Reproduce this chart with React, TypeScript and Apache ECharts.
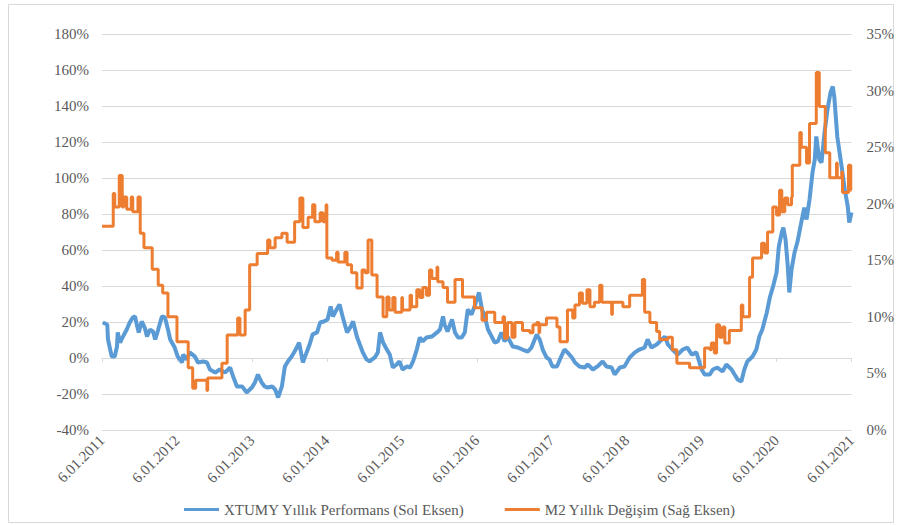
import React, { useEffect, useRef } from "react";
import * as echarts from "echarts";

// XTUMY annual performance (left axis, %), x = decimal year (2011 = 6.01.2011)
const xtumyYears = [
  2011.01, 2011.07, 2011.08, 2011.13, 2011.17, 2011.2, 2011.21, 2011.24, 2011.28, 2011.33, 2011.37, 2011.41,
  2011.44, 2011.47, 2011.49, 2011.53, 2011.57, 2011.6, 2011.64, 2011.68, 2011.71, 2011.75, 2011.8, 2011.84,
  2011.88, 2011.91, 2011.97, 2012.01, 2012.07, 2012.08, 2012.13, 2012.17, 2012.24, 2012.28, 2012.35, 2012.4,
  2012.44, 2012.51, 2012.57, 2012.64, 2012.71, 2012.75, 2012.8, 2012.87, 2012.93, 2013.0, 2013.04, 2013.08,
  2013.13, 2013.17, 2013.21, 2013.27, 2013.31, 2013.35, 2013.4, 2013.44, 2013.48, 2013.53, 2013.57, 2013.63,
  2013.68, 2013.73, 2013.77, 2013.81, 2013.87, 2013.91, 2013.96, 2014.01, 2014.05, 2014.08, 2014.13, 2014.17,
  2014.21, 2014.27, 2014.31, 2014.35, 2014.4, 2014.44, 2014.48, 2014.53, 2014.57, 2014.64, 2014.68, 2014.71,
  2014.75, 2014.8, 2014.84, 2014.88, 2014.93, 2014.97, 2015.01, 2015.07, 2015.11, 2015.15, 2015.2, 2015.24,
  2015.28, 2015.33, 2015.4, 2015.47, 2015.51, 2015.55, 2015.57, 2015.61, 2015.67, 2015.71, 2015.75, 2015.8,
  2015.84, 2015.88, 2015.93, 2015.97, 2016.03, 2016.07, 2016.11, 2016.15, 2016.2, 2016.24, 2016.28, 2016.33,
  2016.37, 2016.41, 2016.48, 2016.55, 2016.61, 2016.68, 2016.73, 2016.8, 2016.84, 2016.88, 2016.93, 2016.97,
  2017.01, 2017.07, 2017.11, 2017.17, 2017.21, 2017.27, 2017.31, 2017.37, 2017.44, 2017.48, 2017.55, 2017.61,
  2017.68, 2017.73, 2017.8, 2017.84, 2017.91, 2017.97, 2018.04, 2018.11, 2018.17, 2018.24, 2018.28, 2018.33,
  2018.4, 2018.47, 2018.51, 2018.55, 2018.61, 2018.68, 2018.75, 2018.81, 2018.87, 2018.93, 2019.0, 2019.04,
  2019.11, 2019.15, 2019.21, 2019.28, 2019.33, 2019.4, 2019.44, 2019.48, 2019.53, 2019.57, 2019.61, 2019.68,
  2019.73, 2019.77, 2019.81, 2019.87, 2019.91, 2019.95, 2020.0, 2020.03, 2020.07, 2020.09, 2020.12, 2020.15,
  2020.17, 2020.2, 2020.24, 2020.28, 2020.33, 2020.37, 2020.4, 2020.44, 2020.48, 2020.51, 2020.53, 2020.57,
  2020.6, 2020.64, 2020.68, 2020.72, 2020.75, 2020.77, 2020.81, 2020.87, 2020.91, 2020.95, 2020.97, 2021.0,
];
const xtumyValues = [
  19.7, 18.6, 10.3, 0.8, 0.8, 6.4, 14.2, 8.6, 11.9, 15.8, 19.7, 22.5,
  23.1, 17.5, 14.2, 20.3, 16.9, 11.9, 15.8, 14.7, 10.3, 15.8, 23.1, 22.5,
  15.8, 10.3, 5.8, 0.8, -2.5, 1.9, -0.8, 3.1, 0.8, -2.5, -1.9, -2.5,
  -6.4, -8.1, -6.4, -8.1, -5.3, -10.3, -15.8, -15.8, -19.2, -16.4, -13.6, -9.2,
  -13.6, -15.8, -16.4, -15.8, -17.5, -21.9, -15.8, -4.7, -1.9, 0.8, 3.6, 8.6,
  -2.5, 3.1, 7.5, 13.1, 14.2, 19.7, 20.3, 21.4, 28.6, 23.1, 26.9, 29.7,
  23.1, 14.2, 16.9, 20.3, 11.9, 7.5, 3.1, -0.8, -1.9, 0.3, 3.1, 14.2,
  8.6, 4.7, 1.9, -5.3, -3.6, -1.9, -6.4, -4.7, -5.3, -1.9, 4.7, 11.4,
  9.2, 11.4, 11.9, 14.2, 15.8, 23.1, 18.6, 14.7, 21.4, 14.2, 11.4, 11.4,
  14.2, 26.9, 24.2, 28.6, 36.4, 26.9, 22.5, 15.8, 11.9, 8.6, 9.2, 14.2,
  9.2, 11.9, 6.4, 5.8, 4.7, 3.6, 5.8, 13.1, 10.3, 4.7, 0.3, -0.8,
  -4.7, -4.7, -0.8, 4.7, 3.1, 0.3, -2.5, -4.7, -5.3, -3.6, -6.4, -4.7,
  -1.9, -4.7, -5.3, -9.2, -5.3, -4.7, 0.3, 3.1, 4.7, 5.8, 10.3, 5.8,
  7.5, 10.3, 11.9, 7.5, 4.7, 1.9, 4.7, 5.8, 1.9, 3.1, -6.4, -9.2,
  -9.2, -6.4, -5.3, -7.5, -3.6, -6.4, -9.2, -11.9, -13.1, -6.4, -1.9, 0.8,
  4.7, 11.9, 15.8, 25.3, 33.6, 39.2, 47.5, 61.9, 69.7, 72.5, 65.8, 50.8,
  36.4, 49.2, 58.6, 64.7, 75.3, 83.6, 76.9, 88.1, 103.1, 110.3, 123.1, 110.3,
  108.6, 125.3, 138.1, 147.5, 150.8, 145.3, 123.1, 105.8, 93.6, 84.2, 75.3, 80.8,
];

// M2 annual change (right axis, %), each point = date the new weekly value starts
const m2Years = [
  2011.0, 2011.15, 2011.17, 2011.23, 2011.27, 2011.29, 2011.33, 2011.39, 2011.41, 2011.48, 2011.51, 2011.56,
  2011.67, 2011.75, 2011.81, 2011.88, 2012.0, 2012.15, 2012.21, 2012.25, 2012.4, 2012.41, 2012.6, 2012.67,
  2012.81, 2012.84, 2012.91, 2012.97, 2013.07, 2013.21, 2013.24, 2013.31, 2013.4, 2013.47, 2013.57, 2013.64,
  2013.68, 2013.75, 2013.81, 2013.84, 2013.91, 2013.95, 2013.99, 2014.0, 2014.07, 2014.13, 2014.15, 2014.24,
  2014.27, 2014.33, 2014.4, 2014.47, 2014.51, 2014.55, 2014.6, 2014.67, 2014.75, 2014.8, 2014.83, 2014.88,
  2014.91, 2015.0, 2015.01, 2015.11, 2015.13, 2015.2, 2015.24, 2015.28, 2015.33, 2015.37, 2015.4, 2015.47,
  2015.48, 2015.55, 2015.61, 2015.71, 2015.81, 2015.97, 2016.07, 2016.13, 2016.24, 2016.35, 2016.37, 2016.41,
  2016.47, 2016.51, 2016.61, 2016.71, 2016.75, 2016.8, 2016.83, 2016.84, 2016.93, 2017.07, 2017.11, 2017.21,
  2017.28, 2017.31, 2017.37, 2017.41, 2017.47, 2017.51, 2017.57, 2017.64, 2017.67, 2017.8, 2017.81, 2017.95,
  2018.04, 2018.21, 2018.24, 2018.31, 2018.4, 2018.44, 2018.55, 2018.61, 2018.67, 2018.84, 2019.04, 2019.11,
  2019.13, 2019.17, 2019.2, 2019.24, 2019.28, 2019.31, 2019.37, 2019.53, 2019.55, 2019.64, 2019.68, 2019.8,
  2019.84, 2019.88, 2019.95, 2020.0, 2020.04, 2020.07, 2020.11, 2020.15, 2020.2, 2020.21, 2020.31, 2020.33,
  2020.4, 2020.44, 2020.53, 2020.57, 2020.65, 2020.71, 2020.8, 2020.81, 2020.87, 2020.88, 2020.96, 2020.99,
  2021.0,
];
const m2Values = [
  18.0, 20.9, 19.7, 22.5, 19.7, 20.6, 19.5, 20.6, 19.3, 20.6, 17.4, 16.1,
  14.2, 12.8, 12.1, 10.0, 7.8, 5.5, 3.7, 4.4, 3.5, 4.6, 5.9, 8.4,
  9.9, 8.4, 10.6, 14.6, 15.6, 16.8, 16.1, 17.0, 17.4, 16.6, 18.4, 20.5,
  17.9, 18.8, 19.9, 18.4, 19.2, 18.4, 19.9, 15.2, 15.0, 15.7, 14.85, 15.7,
  14.6, 13.9, 12.55, 14.15, 13.9, 16.8, 13.7, 11.75, 10.0, 11.75, 10.6, 11.7,
  10.4, 11.7, 10.6, 11.9, 10.9, 12.4, 11.7, 12.6, 11.9, 14.15, 13.4, 14.4,
  13.1, 12.6, 11.3, 13.3, 11.75, 10.8, 9.7, 10.4, 9.5, 10.0, 8.1, 9.5,
  8.2, 9.5, 8.8, 8.6, 9.3, 9.5, 8.6, 9.3, 9.9, 9.1, 7.8, 10.6,
  9.9, 11.05, 12.1, 11.2, 12.4, 10.9, 11.3, 12.8, 11.3, 10.2, 11.3, 10.9,
  11.9, 13.3, 10.4, 9.5, 8.7, 8.0, 8.2, 7.1, 5.9, 5.5, 7.25, 7.1,
  7.7, 6.8, 9.3, 8.2, 9.1, 7.7, 8.8, 11.05, 10.0, 13.5, 15.2, 16.5,
  15.65, 17.5, 19.7, 19.0, 21.2, 19.3, 20.5, 19.9, 20.6, 23.4, 26.3, 25.0,
  23.6, 27.1, 31.6, 28.6, 24.5, 22.3, 23.6, 22.3, 22.8, 21.0, 23.4, 21.2,
  21.2,
];

const xStartYear = 2011;
const xEndYear = 2021;
const leftMin = -40;
const leftMax = 180;
const leftStep = 20;
const rightMin = 0;
const rightMax = 35;
const rightStep = 5;

const seriesNames = ["XTUMY Yıllık Performans (Sol Eksen)", "M2 Yıllık Değişim (Sağ Eksen)"];

const FONT = "Liberation Serif";
const TEXT = "#595959";
const GRID = "#d9d9d9";
const BLUE = "#5B9BD5";
const ORANGE = "#ED7D31";

export default function App() {
  const ref = useRef<HTMLDivElement>(null);
  useEffect(() => {
    if (!ref.current) return;
    const chart = echarts.init(ref.current, undefined, { renderer: "svg" });
    const blue = xtumyYears.map((t, i) => [t, xtumyValues[i]]);
    const orange = m2Years.map((t, i) => [t, m2Values[i]]);
    chart.setOption({
      animation: false,
      backgroundColor: "#ffffff",
      textStyle: { fontFamily: FONT },
      grid: { left: 102, right: 45, top: 34, bottom: 95, containLabel: false },
      graphic: [
        {
          type: "rect",
          shape: { x: 8.5, y: 4.5, width: 885, height: 518 },
          style: { fill: "none", stroke: GRID, lineWidth: 1 },
          silent: true,
          z: -10,
        },
      ],
      legend: {
        left: 179,
        top: 497,
        itemWidth: 35,
        itemHeight: 3,
        itemGap: 40,
        icon: "rect",
        textStyle: { fontFamily: FONT, fontSize: 15, color: TEXT },
        data: [
          { name: seriesNames[0], itemStyle: { color: BLUE } },
          { name: seriesNames[1], itemStyle: { color: ORANGE } },
        ],
      },
      xAxis: [
        {
          type: "value",
          min: xStartYear,
          max: xEndYear,
          interval: 1,
          position: "bottom",
          axisLine: { show: false, onZero: false },
          axisTick: { show: false },
          splitLine: { show: false },
          axisLabel: {
            rotate: 45,
            margin: 8,
            fontFamily: FONT,
            fontSize: 15,
            color: TEXT,
            formatter: (v: number) => `6.01.${Math.round(v)}`,
          },
        },
        {
          type: "value",
          min: xStartYear,
          max: xEndYear,
          interval: 1,
          position: "bottom",
          axisLine: { show: true, onZero: true, onZeroAxisIndex: 0, lineStyle: { color: GRID, width: 1 } },
          axisTick: { show: true, length: 4, lineStyle: { color: GRID } },
          axisLabel: { show: false },
          splitLine: { show: false },
        },
      ],
      yAxis: [
        {
          type: "value",
          min: leftMin,
          max: leftMax,
          interval: leftStep,
          axisLine: { show: false },
          axisTick: { show: false },
          splitLine: { show: true, lineStyle: { color: GRID, width: 1 } },
          axisLabel: { margin: 13, fontFamily: FONT, fontSize: 15, color: TEXT, formatter: (v: number) => `${v}%` },
        },
        {
          type: "value",
          min: rightMin,
          max: rightMax,
          interval: rightStep,
          position: "right",
          axisLine: { show: false },
          axisTick: { show: false },
          splitLine: { show: false },
          axisLabel: { margin: 15, fontFamily: FONT, fontSize: 15, color: TEXT, formatter: (v: number) => `${v}%` },
        },
      ],
      series: [
        {
          name: seriesNames[0],
          type: "line",
          xAxisIndex: 0,
          yAxisIndex: 0,
          data: blue,
          symbol: "none",
          lineStyle: { color: BLUE, width: 4 },
          itemStyle: { color: BLUE },
        },
        {
          name: seriesNames[1],
          type: "line",
          xAxisIndex: 0,
          yAxisIndex: 1,
          step: "end",
          data: orange,
          symbol: "none",
          lineStyle: { color: ORANGE, width: 3 },
          itemStyle: { color: ORANGE },
        },
      ],
    });
    return () => chart.dispose();
  }, []);
  return (
    <div
      ref={ref}
      style={{ position: "fixed", left: 0, top: 0, width: 897, height: 525, background: "#fff" }}
    />
  );
}
